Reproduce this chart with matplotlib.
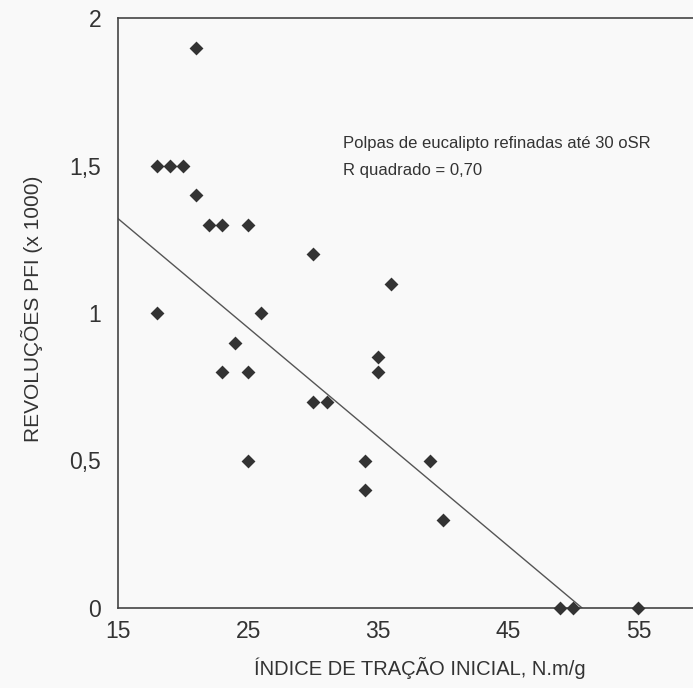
import matplotlib
matplotlib.use("Agg")
import matplotlib.pyplot as plt
import numpy as np

plt.rcParams['font.family'] = ['Liberation Sans', 'DejaVu Sans']

# Data
tracao = [21, 18, 19, 20, 21, 22, 23, 25, 18, 26, 30, 36, 24, 23, 25, 35, 35,
          30, 31.1, 25, 34, 39, 34, 40, 49, 50, 55]
revolucoes = [1.90, 1.50, 1.50, 1.50, 1.40, 1.30, 1.30, 1.30, 1.00, 1.00, 1.20, 1.10,
              0.90, 0.80, 0.80, 0.85, 0.80, 0.70, 0.70, 0.50, 0.50, 0.50, 0.40, 0.30,
              0.00, 0.00, 0.00]

# Fitted line y = a + b*x (clipped at 0)
fit_intercept = 1.875
fit_slope = -0.037

x_ticks = [15, 25, 35, 45, 55]
y_ticks = [0, 0.5, 1, 1.5, 2]
y_tick_labels = ['0', '0,5', '1', '1,5', '2']
x_lim = (15, 59.2)
y_lim = (0, 2)

W, H = 693, 688
fig = plt.figure(figsize=(W / 100, H / 100), dpi=100)
fig.patch.set_facecolor('#f9f9f9')
ax = fig.add_axes([118 / W, (H - 608) / H, (W - 118) / W, (608 - 18) / H])
ax.set_facecolor('#f9f9f9')

ax.set_xlim(*x_lim)
ax.set_ylim(*y_lim)

x_zero = -fit_intercept / fit_slope
xs = np.array([x_lim[0], x_zero])
ax.plot(xs, fit_intercept + fit_slope * xs, color='#555555', lw=1.0, zorder=2)

ax.scatter(tracao, revolucoes, marker='D', s=50, color='#333333', zorder=3,
           clip_on=False, linewidths=0)

for s in ['left', 'bottom', 'top']:
    ax.spines[s].set_color('#444444')
    ax.spines[s].set_linewidth(1.2)
ax.spines['right'].set_visible(False)

ax.set_xticks(x_ticks)
ax.set_xticklabels([str(t) for t in x_ticks])
ax.set_yticks(y_ticks)
ax.set_yticklabels(y_tick_labels)
ax.tick_params(length=0, labelsize=16.5, colors='#333333')
ax.tick_params(axis='x', pad=9)
ax.tick_params(axis='y', pad=12)

ax.set_xlabel('ÍNDICE DE TRAÇÃO INICIAL, N.m/g', fontsize=14.5, color='#333333')
ax.xaxis.set_label_coords((420 - 118) / (W - 118), -(668 - 608) / (608 - 18))
ax.xaxis.label.set_va('center')
ax.set_ylabel('REVOLUÇÕES PFI (x 1000)', fontsize=15, color='#333333')
ax.yaxis.set_label_coords(-(118 - 32) / (W - 118), (608 - 309) / (608 - 18))
ax.yaxis.label.set_va('center')

fig.text(343 / W, 1 - 148 / H, 'Polpas de eucalipto refinadas até 30 oSR',
         fontsize=12, color='#333333', va='baseline')
fig.text(343 / W, 1 - 175 / H, 'R quadrado = 0,70',
         fontsize=12, color='#333333', va='baseline')

fig.savefig('out.png', dpi=100, facecolor=fig.get_facecolor())
